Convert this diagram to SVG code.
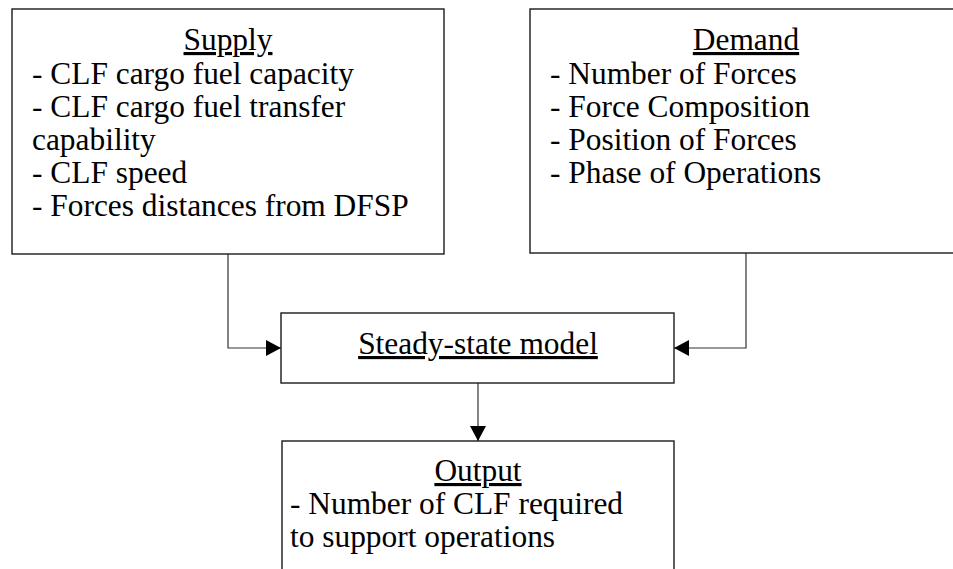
<svg xmlns="http://www.w3.org/2000/svg" width="953" height="569" viewBox="0 0 953 569">
  <style>
    .box { fill: #ffffff; stroke: #1a1a1a; stroke-width: 1.4; }
    .txt { font-family: 'Liberation Serif', 'Times New Roman', Times, 'DejaVu Serif', serif; font-size: 31.4px; fill: #000000; }
    .title { text-anchor: middle; text-decoration: underline; }
    .wire { fill: none; stroke: #333333; stroke-width: 1.2; }
  </style>
  <defs>
    <marker id="arrow" viewBox="0 0 15 16" refX="15" refY="8" markerWidth="15" markerHeight="16" markerUnits="userSpaceOnUse" orient="auto">
      <path d="M0,0 L15,8 L0,16 Z" fill="#000000"/>
    </marker>
  </defs>
  <rect width="953" height="569" fill="#ffffff"/>

  <g id="connectors">
    <path class="wire" d="M228,254 V348 H281" marker-end="url(#arrow)"/>
    <path class="wire" d="M746,253 V348 H674" marker-end="url(#arrow)"/>
    <path class="wire" d="M478,383 V441" marker-end="url(#arrow)"/>
  </g>

  <g id="supply">
    <rect class="box" x="12" y="9" width="432" height="245"/>
    <text class="txt title" x="228" y="50">Supply</text>
    <text class="txt" x="32" y="84">- CLF cargo fuel capacity</text>
    <text class="txt" x="32" y="117">- CLF cargo fuel transfer</text>
    <text class="txt" x="32" y="150">capability</text>
    <text class="txt" x="32" y="183">- CLF speed</text>
    <text class="txt" x="32" y="216">- Forces distances from DFSP</text>
  </g>

  <g id="demand">
    <rect class="box" x="530" y="9" width="432" height="244"/>
    <text class="txt title" x="746" y="50">Demand</text>
    <text class="txt" x="550" y="84">- Number of Forces</text>
    <text class="txt" x="550" y="117">- Force Composition</text>
    <text class="txt" x="550" y="150">- Position of Forces</text>
    <text class="txt" x="550" y="183">- Phase of Operations</text>
  </g>

  <g id="steady-state-model">
    <rect class="box" x="281" y="313" width="393" height="70"/>
    <text class="txt title" x="478" y="354">Steady-state model</text>
  </g>

  <g id="output">
    <rect class="box" x="282" y="441" width="392" height="140"/>
    <text class="txt title" x="478" y="481">Output</text>
    <text class="txt" x="290" y="514">- Number of CLF required</text>
    <text class="txt" x="290" y="547">to support operations</text>
  </g>
</svg>
